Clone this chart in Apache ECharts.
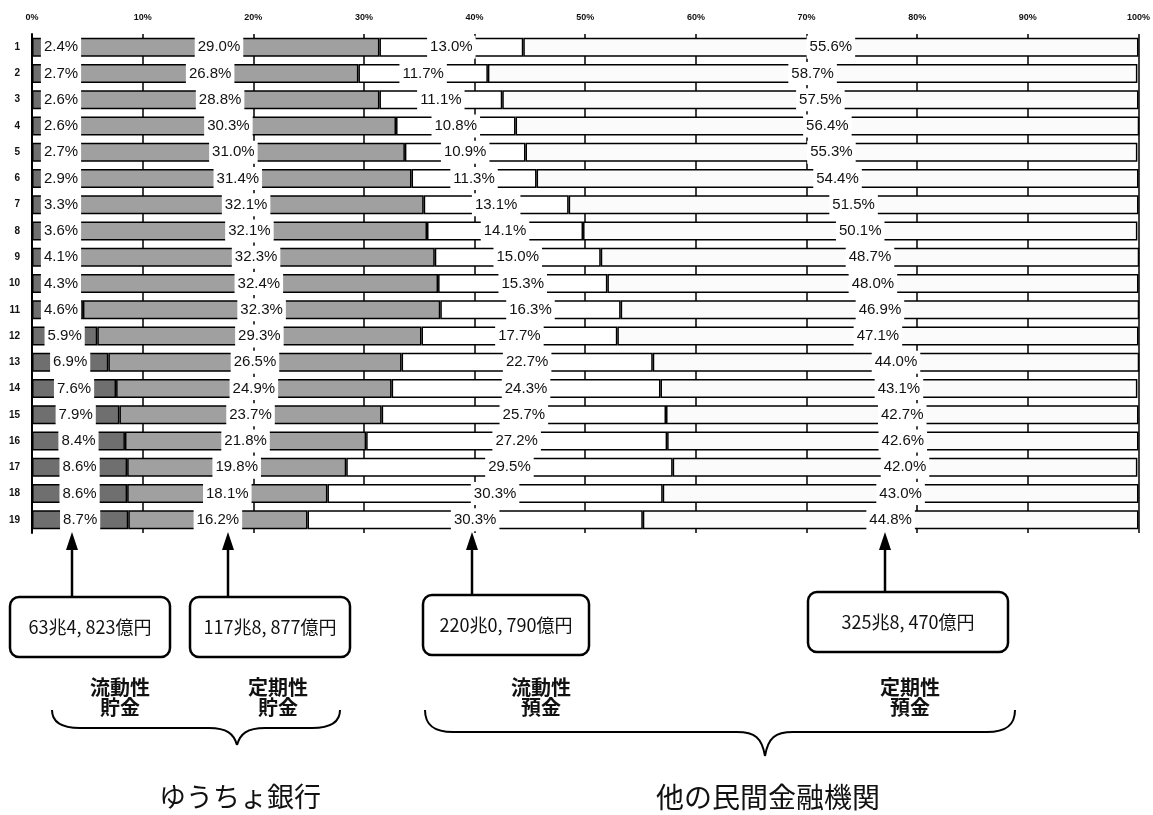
<!DOCTYPE html>
<html>
<head>
<meta charset="utf-8">
<script src="https://cdn.jsdelivr.net/npm/echarts@6/dist/echarts.min.js"></script>
<style>
html, body { margin: 0; padding: 0; background: #fff; }
#container { width: 1153px; height: 815px; }
</style>
</head>
<body>
<div id="container"></div>
<script>
// row numbers 1..19 (top to bottom)
var rows = ['1','2','3','4','5','6','7','8','9','10','11','12','13','14','15','16','17','18','19'];
var seriesNames = ['流動性貯金', '定期性貯金', '流動性預金', '定期性預金'];
var ryudoChokin = [2.4, 2.7, 2.6, 2.6, 2.7, 2.9, 3.3, 3.6, 4.1, 4.3, 4.6, 5.9, 6.9, 7.6, 7.9, 8.4, 8.6, 8.6, 8.7];
var teikiChokin = [29.0, 26.8, 28.8, 30.3, 31.0, 31.4, 32.1, 32.1, 32.3, 32.4, 32.3, 29.3, 26.5, 24.9, 23.7, 21.8, 19.8, 18.1, 16.2];
var ryudoYokin = [13.0, 11.7, 11.1, 10.8, 10.9, 11.3, 13.1, 14.1, 15.0, 15.3, 16.3, 17.7, 22.7, 24.3, 25.7, 27.2, 29.5, 30.3, 30.3];
var teikiYokin = [55.6, 58.7, 57.5, 56.4, 55.3, 54.4, 51.5, 50.1, 48.7, 48.0, 46.9, 47.1, 44.0, 43.1, 42.7, 42.6, 42.0, 43.0, 44.8];
var xTicks = ['0%','10%','20%','30%','40%','50%','60%','70%','80%','90%','100%'];
var totals = ['63兆4, 823億円', '117兆8, 877億円', '220兆0, 790億円', '325兆8, 470億円'];

var dom = document.getElementById("container");
var myChart = echarts.init(dom);
var option = null;

var fontNum = '"Liberation Sans", Arial, sans-serif';
var fontJp = '"Noto Sans CJK JP", sans-serif';

function labelCfg() {
    return {
        show: true,
        position: 'inside',
        color: '#111',
        fontFamily: fontNum,
        fontSize: 15,
        backgroundColor: '#fff',
        padding: [3, 3],
        lineHeight: 17,
        formatter: function (p) { return p.value.toFixed(1) + '%'; }
    };
}

// small first segments get their label pushed a bit to the right
var s1Data = ryudoChokin.map(function (v) {
    var shift = Math.max(0, 29 - v * 5.53);
    return { value: v, label: { offset: [shift, 0] } };
});

var colors = ['#6f6f6f', '#a0a0a0', '#ffffff', '#fbfbfb'];
var dataSets = [s1Data, teikiChokin, ryudoYokin, teikiYokin];

var series = dataSets.map(function (d, i) {
    return {
        name: seriesNames[i],
        type: 'bar',
        stack: 'total',
        barWidth: 19,
        data: d,
        itemStyle: { color: colors[i], borderColor: '#000', borderWidth: 1.5 },
        label: labelCfg(),
        z: 3
    };
});

// annotations under the plot
var arrowX = [72, 228, 472, 885];
var boxes = [
    { x: 10, w: 160, y: 597 },
    { x: 190, w: 160, y: 597 },
    { x: 423, w: 166, y: 595 },
    { x: 808, w: 200, y: 592 }
];
var groupLabels = [
    { x: 120, text: '流動性\n貯金' },
    { x: 278, text: '定期性\n貯金' },
    { x: 541, text: '流動性\n預金' },
    { x: 910, text: '定期性\n預金' }
];

var graphics = [];
arrowX.forEach(function (x, i) {
    var b = boxes[i];
    graphics.push({
        type: 'line',
        shape: { x1: x, y1: b.y, x2: x, y2: 548 },
        style: { stroke: '#000', lineWidth: 2.5 }
    });
    graphics.push({
        type: 'polygon',
        shape: { points: [[x - 6, 550], [x + 6, 550], [x, 532]] },
        style: { fill: '#000' }
    });
    graphics.push({
        type: 'rect',
        shape: { x: b.x, y: b.y, width: b.w, height: 60, r: 9 },
        style: { fill: '#fff', stroke: '#000', lineWidth: 2.5 }
    });
    graphics.push({
        type: 'text',
        x: b.x + b.w / 2,
        y: b.y + 30,
        style: {
            text: totals[i], fill: '#111', fontSize: 18, fontFamily: fontJp,
            align: 'center', verticalAlign: 'middle'
        }
    });
});
groupLabels.forEach(function (g) {
    graphics.push({
        type: 'text',
        x: g.x,
        y: 697,
        style: {
            text: g.text, fill: '#111', fontSize: 20, fontWeight: 'bold', fontFamily: fontJp,
            lineHeight: 20, align: 'center', verticalAlign: 'middle'
        }
    });
});

// curly braces built from curves and straight pieces
function brace(x0, x1, xm, yTop, yMid, yTip) {
    var st = { fill: 'none', stroke: '#000', lineWidth: 2 };
    var r = 28;
    return [
        { type: 'bezierCurve', shape: { x1: x0, y1: yTop, cpx1: x0, cpy1: yMid - 6, cpx2: x0 + 10, cpy2: yMid, x2: x0 + r, y2: yMid }, style: st },
        { type: 'line', shape: { x1: x0 + r, y1: yMid, x2: xm - r, y2: yMid }, style: st },
        { type: 'bezierCurve', shape: { x1: xm - r, y1: yMid, cpx1: xm - 10, cpy1: yMid, cpx2: xm - 3, cpy2: yMid + 6, x2: xm, y2: yTip }, style: st },
        { type: 'bezierCurve', shape: { x1: xm, y1: yTip, cpx1: xm + 3, cpy1: yMid + 6, cpx2: xm + 10, cpy2: yMid, x2: xm + r, y2: yMid }, style: st },
        { type: 'line', shape: { x1: xm + r, y1: yMid, x2: x1 - r, y2: yMid }, style: st },
        { type: 'bezierCurve', shape: { x1: x1 - r, y1: yMid, cpx1: x1 - 10, cpy1: yMid, cpx2: x1, cpy2: yMid - 6, x2: x1, y2: yTop }, style: st }
    ];
}
graphics = graphics.concat(brace(52, 340, 237, 710, 728, 745));
graphics = graphics.concat(brace(425, 1015, 765, 710, 732, 756));

graphics.push({
    type: 'text', x: 240, y: 797,
    style: { text: 'ゆうちょ銀行', fill: '#111', fontSize: 27, fontFamily: fontJp, align: 'center', verticalAlign: 'middle' }
});
graphics.push({
    type: 'text', x: 768, y: 797,
    style: { text: '他の民間金融機関', fill: '#111', fontSize: 28, fontFamily: fontJp, align: 'center', verticalAlign: 'middle' }
});

option = {
    backgroundColor: '#fff',
    animation: false,
    grid: {
        left: 32,
        right: 14,
        top: 34,
        height: 499
    },
    xAxis: {
        type: 'value',
        position: 'top',
        min: 0,
        max: 100,
        interval: 10,
        axisLine: { show: false },
        axisTick: { show: false },
        axisLabel: {
            color: '#111',
            fontSize: 9,
            fontWeight: 'bold',
            fontFamily: fontNum,
            margin: 12,
            formatter: function (v) { return xTicks[v / 10]; }
        },
        splitLine: { show: true, lineStyle: { color: '#000', width: 1.5 } }
    },
    yAxis: {
        type: 'category',
        inverse: true,
        data: rows,
        axisLine: { show: true, lineStyle: { color: '#000', width: 2 } },
        axisTick: { show: false },
        axisLabel: {
            color: '#111',
            fontSize: 10,
            fontWeight: 'bold',
            fontFamily: fontNum,
            margin: 12
        }
    },
    series: series,
    graphic: graphics
};

if (option && typeof option === "object") {
    myChart.setOption(option, true);
}
</script>
</body>
</html>
